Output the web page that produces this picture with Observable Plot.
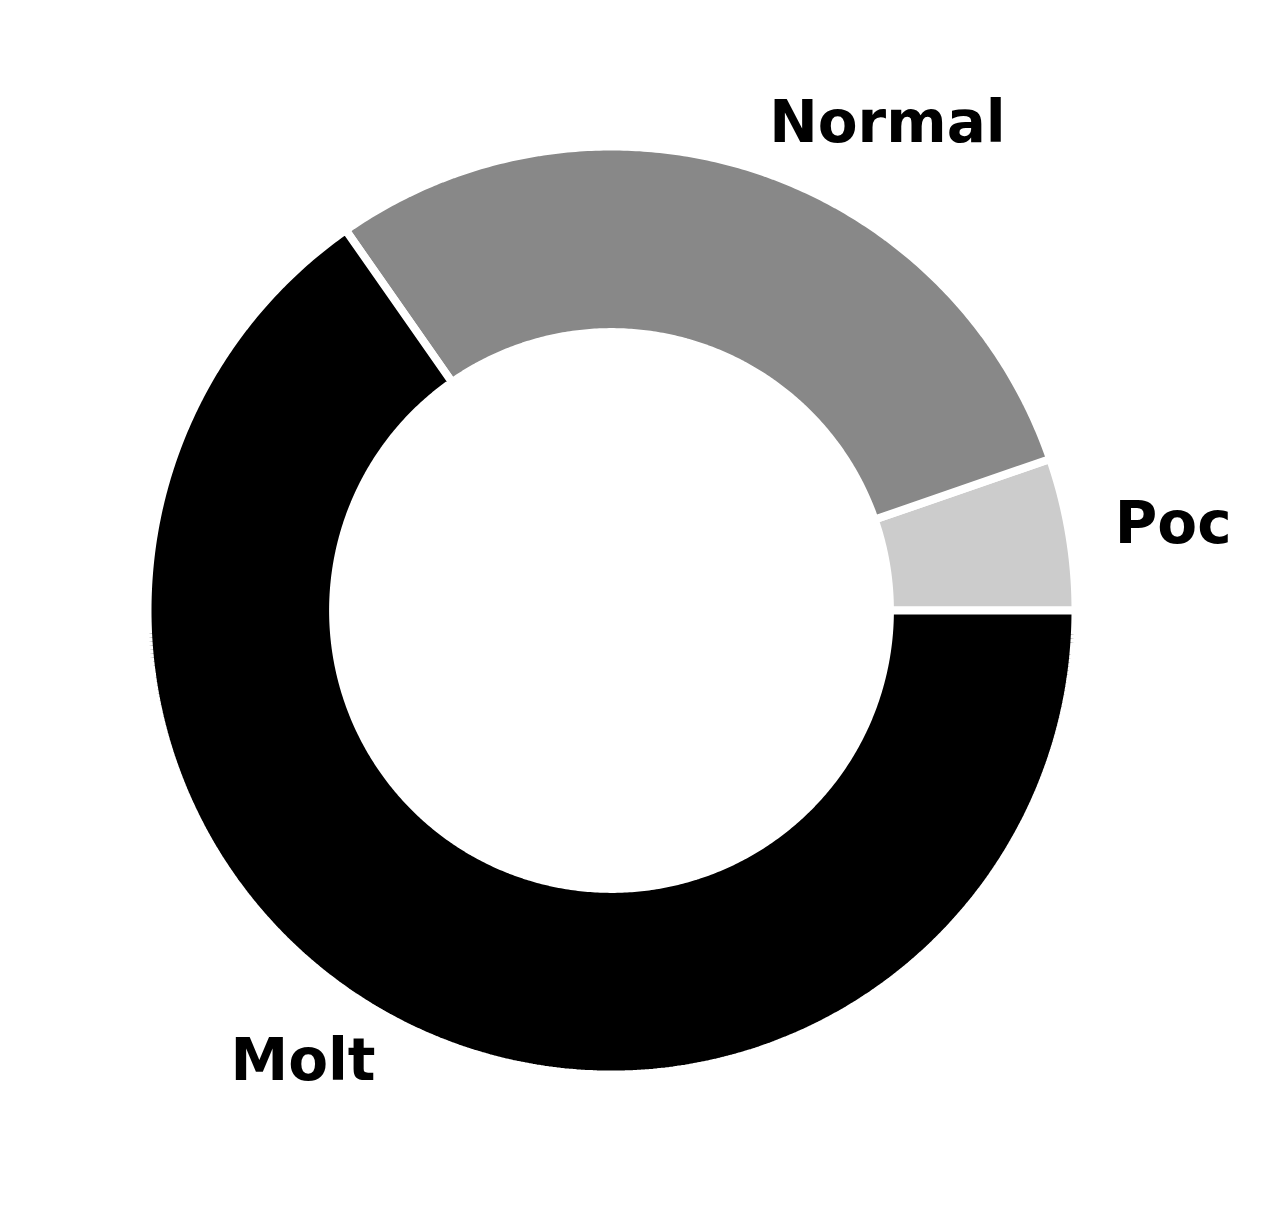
<!DOCTYPE html>
<html>
<head>
<meta charset="utf-8">
<script src="https://cdn.jsdelivr.net/npm/d3@7"></script>
<script src="https://cdn.jsdelivr.net/npm/@observablehq/plot@0.6"></script>
<style>
  html, body { margin: 0; padding: 0; background: #ffffff; }
  #chart { width: 1263px; height: 1222px; }
</style>
</head>
<body>
<div id="chart"></div>
<script>
// Data
const labels = ["Poc", "Normal", "Molt"];
const values = [9, 50, 111];
const colors = ["#cccccc", "#888888", "#000000"];

// Geometry options (matplotlib-like donut: start at 0°, counterclockwise)
const innerRatio = 0.6;
const labelDistance = 1.1;

const total = d3.sum(values);
let acc = 0;
const slices = labels.map((label, i) => {
  const a0 = acc / total * 2 * Math.PI;
  acc += values[i];
  const a1 = acc / total * 2 * Math.PI;
  return {label, value: values[i], color: colors[i], a0, a1, mid: (a0 + a1) / 2};
});

// Outline points for each slice (outer arc then inner arc back), derived from angles above
const outline = [];
for (const s of slices) {
  const n = Math.max(8, Math.ceil((s.a1 - s.a0) / (Math.PI / 360)));
  const pts = [];
  for (let k = 0; k <= n; k++) {
    const t = s.a0 + (s.a1 - s.a0) * k / n;
    pts.push({x: Math.cos(t), y: Math.sin(t)});
  }
  for (let k = n; k >= 0; k--) {
    const t = s.a0 + (s.a1 - s.a0) * k / n;
    pts.push({x: innerRatio * Math.cos(t), y: innerRatio * Math.sin(t)});
  }
  pts.push(pts[0]);
  for (const p of pts) outline.push({...p, label: s.label, color: s.color});
}

const labelData = slices.map(s => ({
  label: s.label,
  x: labelDistance * Math.cos(s.mid),
  y: labelDistance * Math.sin(s.mid),
  anchor: Math.cos(s.mid) >= 0 ? "start" : "end"
}));

const chart = Plot.plot({
  width: 1263,
  height: 1222,
  margin: 0,
  style: {background: "#ffffff", fontFamily: "DejaVu Sans"},
  x: {domain: [-1, 1], range: [147, 1075], axis: null},
  y: {domain: [-1, 1], range: [1074, 146], axis: null},
  marks: [
    Plot.line(outline, {
      x: "x", y: "y", z: "label",
      fill: "color",
      stroke: "#ffffff",
      strokeWidth: 8,
      strokeLinejoin: "miter",
      curve: "linear"
    }),
    Plot.text(labelData.filter(d => d.anchor === "start"), {
      x: "x", y: "y", text: "label",
      textAnchor: "start", lineAnchor: "middle", dy: -2,
      fontSize: 58, fontWeight: "bold", fill: "#000000",
      fontFamily: "DejaVu Sans"
    }),
    Plot.text(labelData.filter(d => d.anchor === "end"), {
      x: "x", y: "y", text: "label",
      textAnchor: "end", lineAnchor: "middle", dy: -2,
      fontSize: 58, fontWeight: "bold", fill: "#000000",
      fontFamily: "DejaVu Sans"
    })
  ]
});
document.getElementById("chart").appendChild(chart);
</script>
</body>
</html>
